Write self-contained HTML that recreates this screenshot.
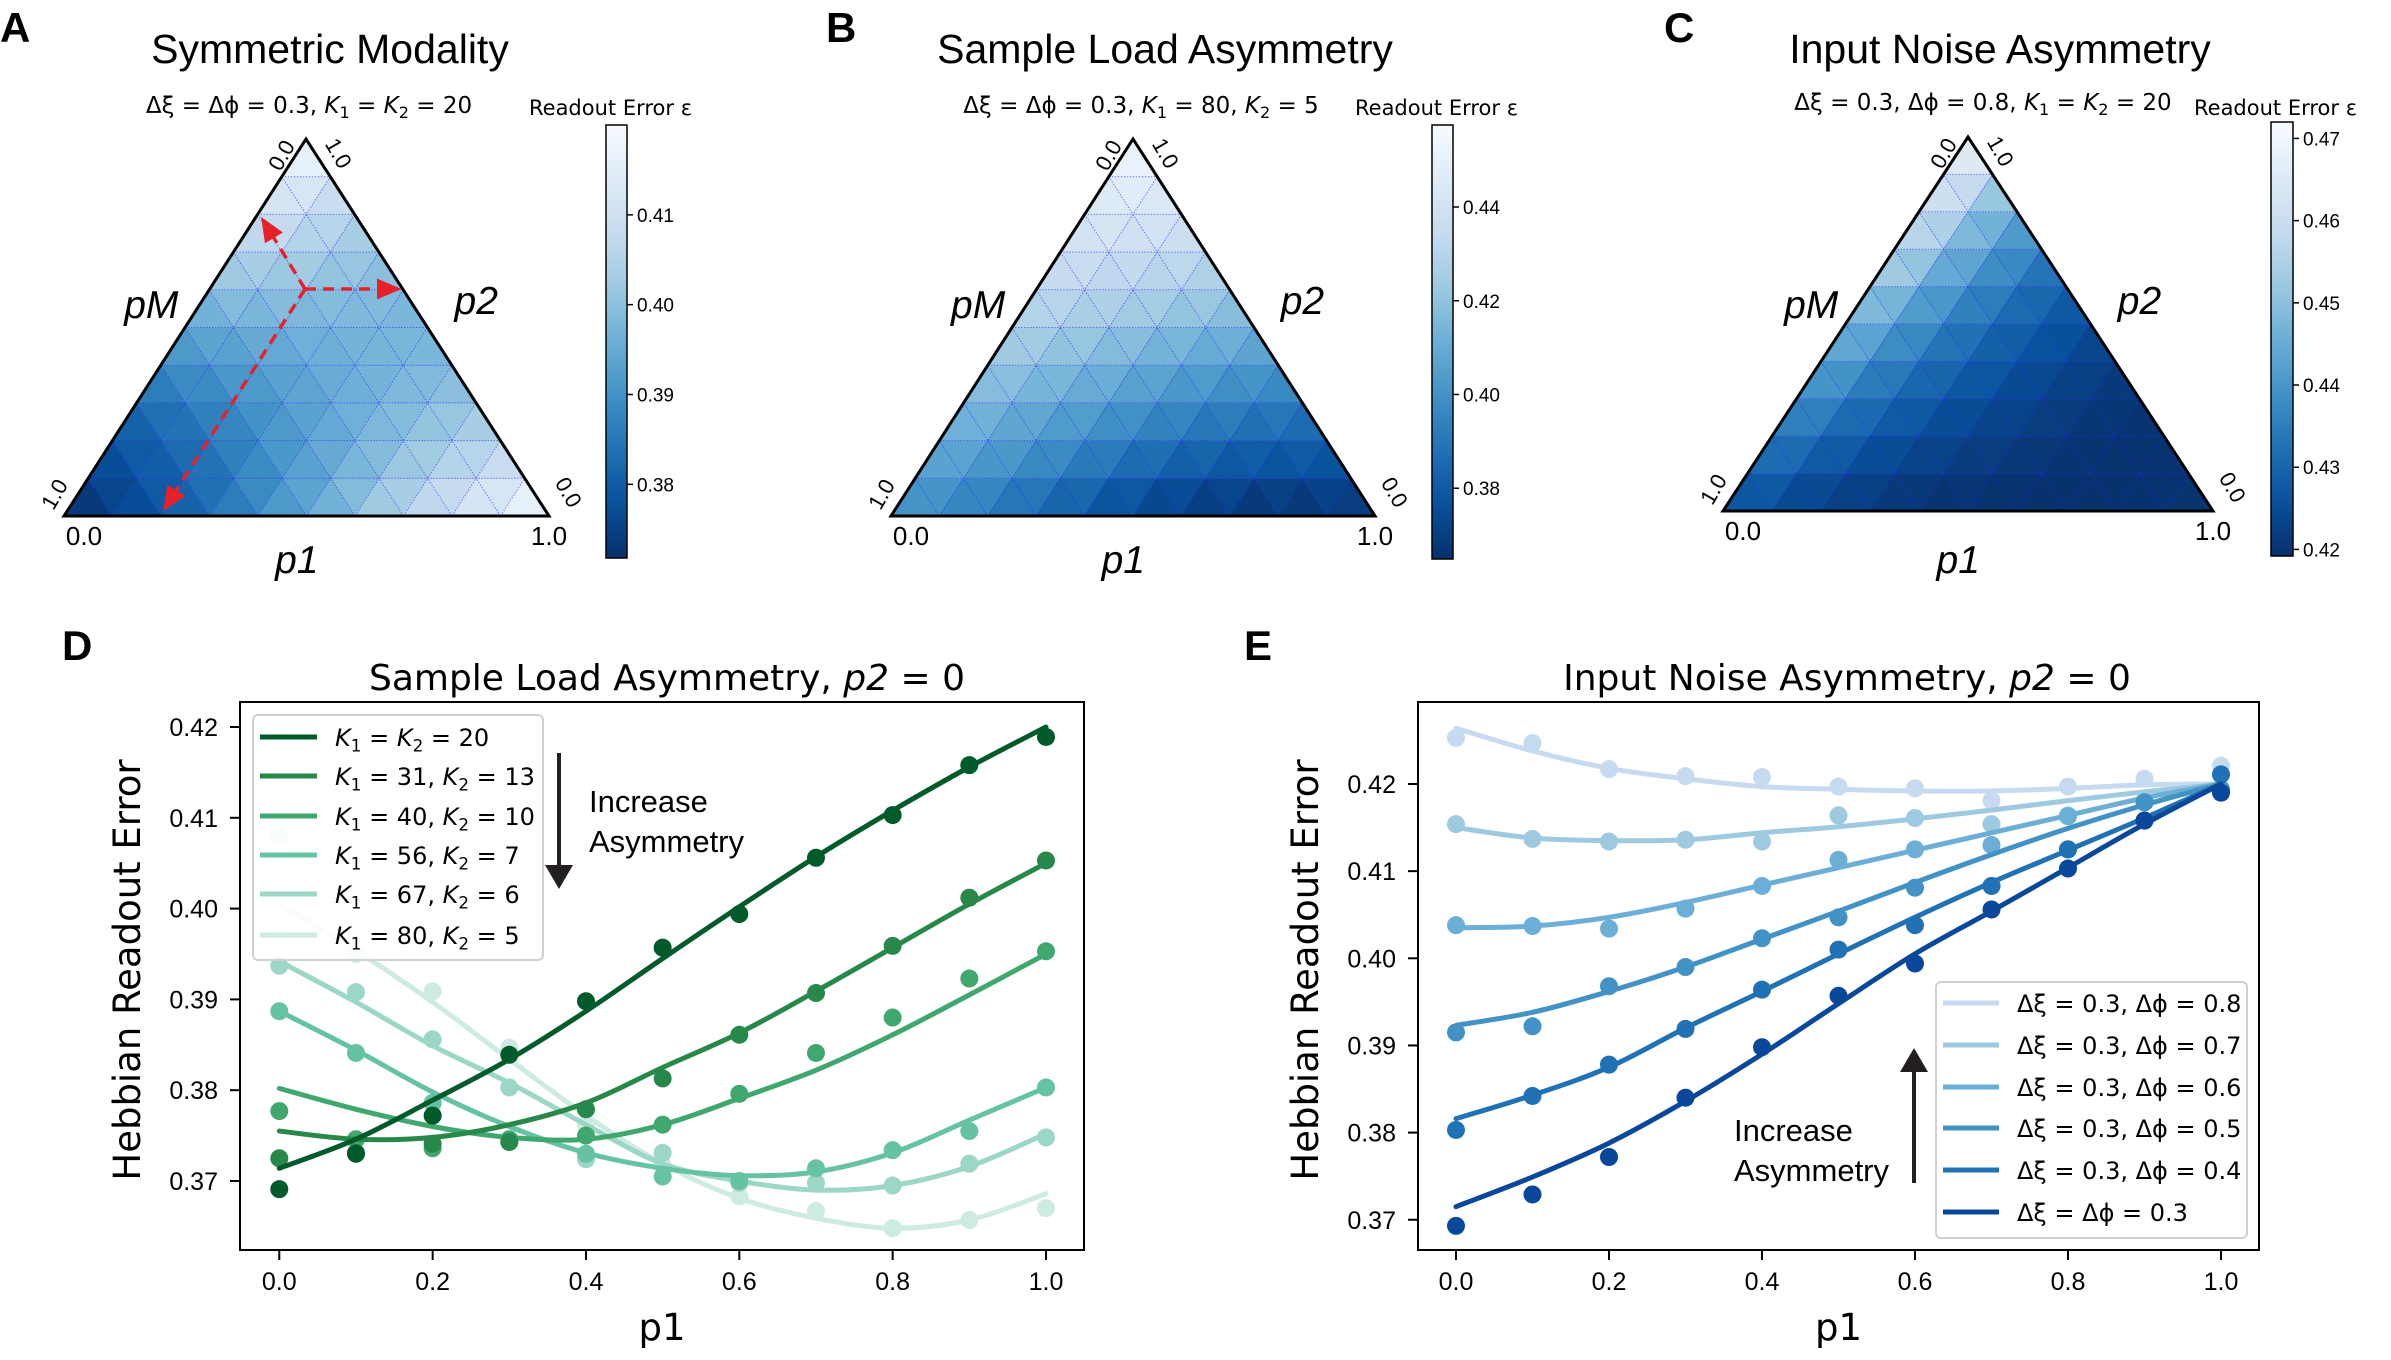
<!DOCTYPE html>
<html><head><meta charset="utf-8"><title>Readout error figure</title>
<style>
html,body{margin:0;padding:0;background:#fff;}
svg{display:block;font-family:"Liberation Sans",sans-serif;}
</style></head>
<body>
<svg id="fig" xmlns="http://www.w3.org/2000/svg" width="2391" height="1360" viewBox="0 0 2391 1360"></svg>
<script>
// ---------- DATA ----------
const triA = [
 [0.3714,0.3746,0.3789,0.3834,0.3887,0.3945,0.4002,0.4057,0.4108,0.4156,0.4200],
 [0.3746,0.3780,0.3816,0.3860,0.3909,0.3957,0.4003,0.4045,0.4084,0.4119],
 [0.3789,0.3816,0.3851,0.3891,0.3930,0.3967,0.4000,0.4030,0.4056],
 [0.3834,0.3860,0.3891,0.3921,0.3949,0.3973,0.3994,0.4011],
 [0.3887,0.3909,0.3930,0.3949,0.3964,0.3976,0.3984],
 [0.3945,0.3957,0.3967,0.3973,0.3976,0.3975],
 [0.4002,0.4003,0.4000,0.3994,0.3984],
 [0.4057,0.4045,0.4030,0.4011],
 [0.4108,0.4084,0.4056],
 [0.4156,0.4119],
 [0.4200]
];
const triB = [
 [0.4005,0.3954,0.3897,0.3834,0.3772,0.3719,0.3681,0.3659,0.3648,0.3657,0.3686],
 [0.4060,0.4014,0.3962,0.3906,0.3850,0.3802,0.3768,0.3748,0.3738,0.3746],
 [0.4114,0.4073,0.4028,0.3977,0.3928,0.3885,0.3855,0.3837,0.3828],
 [0.4169,0.4133,0.4093,0.4049,0.4005,0.3968,0.3942,0.3926],
 [0.4223,0.4192,0.4158,0.4120,0.4083,0.4051,0.4029],
 [0.4278,0.4252,0.4224,0.4192,0.4161,0.4135],
 [0.4332,0.4312,0.4289,0.4264,0.4239],
 [0.4387,0.4371,0.4354,0.4335],
 [0.4441,0.4431,0.4419],
 [0.4496,0.4490],
 [0.4550]
];
const triC = [
 [0.4264,0.4238,0.4218,0.4206,0.4197,0.4194,0.4192,0.4192,0.4195,0.4199,0.4200],
 [0.4309,0.4274,0.4247,0.4228,0.4213,0.4205,0.4199,0.4196,0.4197,0.4199],
 [0.4354,0.4311,0.4276,0.4250,0.4229,0.4217,0.4206,0.4200,0.4199],
 [0.4399,0.4347,0.4304,0.4272,0.4246,0.4228,0.4214,0.4204],
 [0.4444,0.4384,0.4333,0.4294,0.4262,0.4239,0.4221],
 [0.4489,0.4420,0.4362,0.4316,0.4278,0.4250],
 [0.4534,0.4457,0.4391,0.4338,0.4294],
 [0.4579,0.4493,0.4420,0.4360],
 [0.4624,0.4530,0.4448],
 [0.4669,0.4566],
 [0.4714]
];
const cbTicksA = [0.38,0.39,0.40,0.41];
const cbTicksB = [0.38,0.40,0.42,0.44];
const cbTicksC = [0.42,0.43,0.44,0.45,0.46,0.47];

// Panel D
const pD = [0,0.1,0.2,0.3,0.4,0.5,0.6,0.7,0.8,0.9,1.0];
const k1D = ["20","31","40","56","67","80"];
const k2D = ["20","13","10","7","6","5"];
const dotsD1 = [0.3691,0.3730,0.3772,0.3839,0.3898,0.3957,0.3994,0.4056,0.4103,0.4158,0.4189];
const lineD1 = [0.3714,0.3746,0.3789,0.3834,0.3887,0.3945,0.4002,0.4057,0.4108,0.4156,0.4200];
const dotsD2 = [0.3725,0.3731,0.3741,0.3743,0.3779,0.3813,0.3861,0.3907,0.3959,0.4012,0.4053];
const lineD2 = [0.3755,0.3746,0.3748,0.3762,0.3786,0.3825,0.3863,0.3909,0.3957,0.4005,0.4050];
const dotsD3 = [0.3777,0.3746,0.3736,0.3746,0.3750,0.3762,0.3796,0.3841,0.3880,0.3923,0.3953];
const lineD3 = [0.3802,0.3779,0.3760,0.3748,0.3746,0.3762,0.3791,0.3822,0.3861,0.3905,0.3950];
const dotsD4 = [0.3887,0.3841,0.3786,0.3743,0.3730,0.3705,0.3700,0.3714,0.3734,0.3755,0.3803];
const lineD4 = [0.3887,0.3844,0.3798,0.3760,0.3731,0.3714,0.3706,0.3710,0.3731,0.3767,0.3803];
const dotsD5 = [0.3937,0.3908,0.3856,0.3803,0.3724,0.3731,0.3698,0.3698,0.3695,0.3719,0.3748];
const lineD5 = [0.3942,0.3897,0.3849,0.3808,0.3762,0.3719,0.3700,0.3690,0.3695,0.3716,0.3752];
const dotsD6 = [0.4081,0.3950,0.3909,0.3847,0.3762,0.3717,0.3683,0.3667,0.3648,0.3657,0.3670];
const lineD6 = [0.4005,0.3954,0.3897,0.3834,0.3772,0.3719,0.3681,0.3659,0.3648,0.3657,0.3686];
const yTicksD = [0.37,0.38,0.39,0.40,0.41,0.42];
const xTicks = [0.0,0.2,0.4,0.6,0.8,1.0];

// Panel E
const pE = [0,0.1,0.2,0.3,0.4,0.5,0.6,0.7,0.8,0.9,1.0];
const dphiE = ["0.8","0.7","0.6","0.5","0.4","0.3"];
const dotsE1 = [0.4253,0.4247,0.4217,0.4209,0.4208,0.4197,0.4195,0.4181,0.4197,0.4206,0.4221];
const lineE1 = [0.4264,0.4238,0.4218,0.4206,0.4197,0.4194,0.4192,0.4192,0.4195,0.4199,0.4200];
const dotsE2 = [0.4154,0.4137,0.4134,0.4136,0.4134,0.4164,0.4161,0.4154,0.4164,0.4181,0.4194];
const lineE2 = [0.4150,0.4138,0.4135,0.4136,0.4144,0.4151,0.4160,0.4170,0.4181,0.4191,0.4200];
const dotsE3 = [0.4038,0.4037,0.4034,0.4057,0.4083,0.4113,0.4125,0.4130,0.4163,0.4179,0.4211];
const lineE3 = [0.4035,0.4037,0.4047,0.4064,0.4084,0.4104,0.4124,0.4144,0.4164,0.4184,0.4200];
const dotsE4 = [0.3915,0.3922,0.3968,0.3990,0.4023,0.4047,0.4081,0.4083,0.4125,0.4179,0.4194];
const lineE4 = [0.3923,0.3938,0.3962,0.3990,0.4022,0.4054,0.4087,0.4119,0.4149,0.4176,0.4200];
const dotsE5 = [0.3803,0.3842,0.3878,0.3919,0.3964,0.4010,0.4038,0.4083,0.4125,0.4158,0.4211];
const lineE5 = [0.3816,0.3843,0.3875,0.3920,0.3962,0.4005,0.4047,0.4087,0.4124,0.4161,0.4200];
const dotsE6 = [0.3693,0.3729,0.3772,0.3840,0.3898,0.3957,0.3994,0.4056,0.4103,0.4158,0.4190];
const lineE6 = [0.3715,0.3749,0.3788,0.3836,0.3890,0.3948,0.4005,0.4054,0.4104,0.4154,0.4200];
const yTicksE = [0.37,0.38,0.39,0.40,0.41,0.42];

// ---------- HELPERS ----------
const NS = "http://www.w3.org/2000/svg";
const svg = document.getElementById("fig");
const DJ = '"DejaVu Sans","Liberation Sans",sans-serif';
function mk(tag, attrs, parent){
  const e = document.createElementNS(NS, tag);
  for (const k in attrs) e.setAttribute(k, attrs[k]);
  (parent||svg).appendChild(e);
  return e;
}
function txt(x,y,s,size,opts,parent){
  opts = opts||{};
  const t = mk("text",{x:x,y:y,"font-size":size,fill:"#000","text-anchor":opts.anchor||"start"},parent);
  if (opts.italic) t.setAttribute("font-style","italic");
  if (opts.bold) t.setAttribute("font-weight","bold");
  if (opts.font) t.setAttribute("font-family",opts.font);
  if (opts.rot!==undefined) t.setAttribute("transform","rotate("+opts.rot+" "+x+" "+y+")");
  t.textContent = s;
  return t;
}
function rich(x,y,parts,size,anchor,parent,font){
  const t = mk("text",{x:x,y:y,"font-size":size,fill:"#000","text-anchor":anchor||"start"},parent);
  if (font) t.setAttribute("font-family",font);
  parts.forEach(p=>{
    const ts = mk("tspan",{},t);
    if (p[1]) ts.setAttribute("font-style","italic");
    if (p[2]) { ts.setAttribute("font-size", size*0.7); ts.setAttribute("dy", size*0.22); }
    if (p[3]) { ts.setAttribute("dy", -size*0.22); }
    ts.textContent = p[0];
  });
  return t;
}
const BLUES = ["#f7fbff","#deebf7","#c6dbef","#9ecae1","#6baed6","#4292c6","#2171b5","#08519c","#08306b"];
function hex2rgb(h){return [parseInt(h.substr(1,2),16),parseInt(h.substr(3,2),16),parseInt(h.substr(5,2),16)];}
function blues(t){
  t = Math.max(0,Math.min(1,t));
  const f = t*(BLUES.length-1), i = Math.min(BLUES.length-2, Math.floor(f)), r = f-i;
  const a = hex2rgb(BLUES[i]), b = hex2rgb(BLUES[i+1]);
  return "rgb("+a.map((v,j)=>Math.round(v+(b[j]-v)*r)).join(",")+")";
}

// ---------- TERNARY PANELS ----------
function ternary(cfg){
  const g = mk("g",{});
  
  
  const BL=cfg.BL, BR=cfg.BR, T=cfg.T, grid=cfg.grid, vmin=cfg.vmin, vmax=cfg.vmax;
  const N=10;
  function pos(i,k){ const a=i/N, b=k/N; return [BL[0]+a*(BR[0]-BL[0])+b*(T[0]-BL[0]), BL[1]+a*(BR[1]-BL[1])+b*(T[1]-BL[1])]; }
  function col(v){ return blues((vmax-v)/(vmax-vmin)); }
  for (let k=0;k<N;k++){
    for (let i=0;i<N-k;i++){
      const v=(grid[k][i]+grid[k][i+1]+grid[k+1][i])/3;
      const p=[pos(i,k),pos(i+1,k),pos(i,k+1)];
      const c=col(v);
      const poly=mk("polygon",{points:p.map(q=>q.join(",")).join(" "),fill:c,stroke:c,"stroke-width":0.8},g);
      
      
      if (i<N-k-1){
        const v2=(grid[k][i+1]+grid[k+1][i+1]+grid[k+1][i])/3;
        const p2=[pos(i+1,k),pos(i+1,k+1),pos(i,k+1)];
        const c2=col(v2);
        const poly2=mk("polygon",{points:p2.map(q=>q.join(",")).join(" "),fill:c2,stroke:c2,"stroke-width":0.8},g);
        
        
      }
    }
  }
  for (let k=1;k<N;k++){
    const a=pos(0,k), b=pos(N-k,k);
    mk("line",{x1:a[0],y1:a[1],x2:b[0],y2:b[1],stroke:"#2a2aff","stroke-width":1,"stroke-dasharray":"1.5 1.5",opacity:0.6},g);
    const c=pos(k,0), d=pos(k,N-k);
    mk("line",{x1:c[0],y1:c[1],x2:d[0],y2:d[1],stroke:"#2a2aff","stroke-width":1,"stroke-dasharray":"1.5 1.5",opacity:0.6},g);
    const e=pos(k,0), f=pos(0,k);
    mk("line",{x1:e[0],y1:e[1],x2:f[0],y2:f[1],stroke:"#2a2aff","stroke-width":1,"stroke-dasharray":"1.5 1.5",opacity:0.6},g);
  }
  const outline = mk("polygon",{points:[BL,BR,T].map(q=>q.join(",")).join(" "),fill:"none",stroke:"#000","stroke-width":3},g);
  
  
  const ox=BL[0], W=BR[0]-BL[0];
  txt(BL[0]+20, BL[1]+29, "0.0", 26, {anchor:"middle"}, g);
  txt(BR[0], BL[1]+29, "1.0", 26, {anchor:"middle"}, g);
  txt(T[0]-18, T[1]+20, "0.0", 22, {anchor:"middle", rot:-60}, g);
  txt(T[0]+26, T[1]+18, "1.0", 22, {anchor:"middle", rot:60}, g);
  txt(BL[0]-3, BL[1]-18, "1.0", 22, {anchor:"middle", rot:-60}, g);
  txt(BR[0]+13, BL[1]-20, "0.0", 22, {anchor:"middle", rot:60}, g);
  txt(ox+W*0.18, 318, "pM", 39, {anchor:"middle", italic:true}, g);
  txt(ox+W*0.85, 314, "p2", 39, {anchor:"middle", italic:true}, g);
  txt(ox+W*0.48, 573, "p1", 39, {anchor:"middle", italic:true}, g);
  const cb=cfg.cb;
  const gid="grad"+cfg.name;
  const defs=mk("defs",{},g);
  const lg=mk("linearGradient",{id:gid,x1:0,y1:0,x2:0,y2:1},defs);
  for (let s=0;s<=20;s++){ mk("stop",{offset:(s/20),"stop-color":blues(s/20)},lg); }
  const bar=mk("rect",{x:cb.x,y:cb.y0,width:cb.w,height:cb.y1-cb.y0,fill:"url(#"+gid+")",stroke:"#000","stroke-width":1.5},g);
  
  
  cfg.ticks.forEach(v=>{
    const y=cb.y0+(vmax-v)/(vmax-vmin)*(cb.y1-cb.y0);
    mk("line",{x1:cb.x+cb.w,y1:y,x2:cb.x+cb.w+6,y2:y,stroke:"#000","stroke-width":1.5},g);
    txt(cb.x+cb.w+10, y+7, v.toFixed(2), 19, {}, g);
  });
  txt(cb.x-77, 115, "Readout Error ε", 21, {font:DJ}, g);
  return g;
}

ternary({name:"ternary-symmetric-modality",BL:[64,516],BR:[549,516],T:[306,139],grid:triA,vmin:0.3718,vmax:0.4200,
  cb:{x:606,w:21,y0:125,y1:558},ticks:cbTicksA});
ternary({name:"ternary-sample-load",BL:[891,516],BR:[1375,516],T:[1133,139],grid:triB,vmin:0.3649,vmax:0.4575,
  cb:{x:1432,w:21,y0:125,y1:559},ticks:cbTicksB});
ternary({name:"ternary-input-noise",BL:[1723,511],BR:[2213,511],T:[1968,137],grid:triC,vmin:0.4192,vmax:0.4720,
  cb:{x:2271,w:22,y0:122,y1:556},ticks:cbTicksC});

(function(){
  const defs=mk("defs",{});
  const m=mk("marker",{id:"redhead",markerWidth:8,markerHeight:8,refX:6,refY:4,orient:"auto",markerUnits:"strokeWidth"},defs);
  mk("path",{d:"M0,1 L7,4 L0,7 Z",fill:"#e8202a"},m);
  const c=[305,289];
  [[263,220],[398,289],[165,508]].forEach(e=>{
    const l=mk("line",{x1:c[0],y1:c[1],x2:e[0],y2:e[1],stroke:"#e8202a","stroke-width":3.5,"stroke-dasharray":"11 7","marker-end":"url(#redhead)"});
    
    
  });
})();

const tA = txt(330,63,"Symmetric Modality",41,{anchor:"middle"});  
const tB = txt(1165,63,"Sample Load Asymmetry",41,{anchor:"middle"});  
const tC = txt(2000,63,"Input Noise Asymmetry",41,{anchor:"middle"});  
rich(309,113,[["Δξ = Δϕ = 0.3, "],["K",1],["1",0,1],[" = ",0,0,1],["K",1],["2",0,1],[" = 20",0,0,1]],23,"middle",null,DJ);
rich(1141,113,[["Δξ = Δϕ = 0.3, "],["K",1],["1",0,1],[" = 80, ",0,0,1],["K",1],["2",0,1],[" = 5",0,0,1]],23,"middle",null,DJ);
rich(1983,110,[["Δξ = 0.3, Δϕ = 0.8, "],["K",1],["1",0,1],[" = ",0,0,1],["K",1],["2",0,1],[" = 20",0,0,1]],23,"middle",null,DJ);
["A","B","C","D","E"].forEach((L,i)=>{
  const xy=[[0,42],[826,42],[1664,42],[62,660],[1244,660]][i];
  const t=txt(xy[0],xy[1],L,42,{bold:true});
  
  
});

// ---------- LINE PANELS ----------
function smoothPath(pts){
  let d="M"+pts[0][0]+","+pts[0][1];
  for (let i=0;i<pts.length-1;i++){
    const p0=pts[Math.max(0,i-1)], p1=pts[i], p2=pts[i+1], p3=pts[Math.min(pts.length-1,i+2)];
    const c1=[p1[0]+(p2[0]-p0[0])/6, p1[1]+(p2[1]-p0[1])/6];
    const c2=[p2[0]-(p3[0]-p1[0])/6, p2[1]-(p3[1]-p1[1])/6];
    d+=" C"+c1[0].toFixed(1)+","+c1[1].toFixed(1)+" "+c2[0].toFixed(1)+","+c2[1].toFixed(1)+" "+p2[0].toFixed(1)+","+p2[1].toFixed(1);
  }
  return d;
}
function linePanel(cfg){
  const g=mk("g",{});
  
  
  const X=p=>cfg.x0+p*(cfg.x1-cfg.x0);
  const Y=v=>cfg.y42+(0.42-v)*cfg.ys;
  const order = cfg.series.map((s,i)=>i);
  if (cfg.reverseDraw) order.reverse();
  order.forEach(si=>{
    const s=cfg.series[si];
    const pts=cfg.p.map((p,i)=>[X(p),Y(s.line[i])]);
    const path=mk("path",{d:smoothPath(pts),fill:"none",stroke:s.color,"stroke-width":5,"stroke-linecap":"round"},g);
    
    
    cfg.p.forEach((p,i)=>{
      const c=mk("circle",{cx:X(p),cy:Y(s.dots[i]),r:9,fill:s.color},g);
      
      
    });
  });
  const fr=mk("rect",{x:cfg.L,y:cfg.T,width:cfg.R-cfg.L,height:cfg.B-cfg.T,fill:"none",stroke:"#000","stroke-width":2},g);
  
  
  xTicks.forEach(t=>{
    mk("line",{x1:X(t),y1:cfg.B,x2:X(t),y2:cfg.B+10,stroke:"#000","stroke-width":2},g);
    const l=txt(X(t),cfg.B+40,t.toFixed(1),25,{anchor:"middle"},g);
    
    
  });
  cfg.yTicks.forEach(t=>{
    mk("line",{x1:cfg.L-10,y1:Y(t),x2:cfg.L,y2:Y(t),stroke:"#000","stroke-width":2},g);
    const l=txt(cfg.L-22,Y(t)+9,t.toFixed(2),25,{anchor:"end"},g);
    
    
  });
  const xl=txt((cfg.L+cfg.R)/2,1340,"p1",37,{anchor:"middle",font:DJ},g);
   
  const yl=txt(cfg.L-100,(cfg.T+cfg.B)/2-6,"Hebbian Readout Error",37,{anchor:"middle",rot:-90,font:DJ},g);
   
  const lg=cfg.legend;
  const box=mk("rect",{x:lg.x,y:lg.y,width:lg.w,height:lg.h,rx:5,fill:"#fff","fill-opacity":0.85,stroke:"#d0d0d0","stroke-width":2},g);
   
  cfg.series.forEach((s,i)=>{
    const y=lg.rows[i];
    mk("line",{x1:lg.lx0,y1:y,x2:lg.lx1,y2:y,stroke:s.color,"stroke-width":5},g);
    const t=rich(lg.tx,y+9,s.label,24,"start",g,DJ);
     
  });
  return g;
}
function kLabel(i){
  if (k1D[i]===k2D[i]) return [["K",1],["1",0,1],[" = ",0,0,1],["K",1],["2",0,1],[" = "+k1D[i],0,0,1]];
  return [["K",1],["1",0,1],[" = "+k1D[i]+", ",0,0,1],["K",1],["2",0,1],[" = "+k2D[i],0,0,1]];
}
const greens=["#005a2a","#27884a","#40a86f","#66c2a4","#9bd6c7","#cdebe3"];
const dD=[dotsD1,dotsD2,dotsD3,dotsD4,dotsD5,dotsD6], lD=[lineD1,lineD2,lineD3,lineD4,lineD5,lineD6];
const seriesD = k1D.map((k,i)=>({label:kLabel(i),color:greens[i],dots:dD[i],line:lD[i]}));
linePanel({name:"panel-d-sample-load",p:pD,x0:279.3,x1:1046,y42:727,ys:9080,L:240,R:1084,T:702,B:1250,yTicks:yTicksD,
  series:seriesD, reverseDraw:true,
  legend:{x:253,y:715,w:290,h:245,rows:[737,776,816,855,894,935],lx0:260,lx1:317,tx:335}});

const bluesL=["#c6dbef","#9ecae1","#6baed6","#4292c6","#2171b5","#08479a"];
const dE=[dotsE1,dotsE2,dotsE3,dotsE4,dotsE5,dotsE6], lE=[lineE1,lineE2,lineE3,lineE4,lineE5,lineE6];
const seriesE = dphiE.map((d,i)=>({label: d==="0.3" ? [["Δξ = Δϕ = 0.3"]] : [["Δξ = 0.3, Δϕ = "+d]],color:bluesL[i],dots:dE[i],line:lE[i]}));
linePanel({name:"panel-e-input-noise",p:pE,x0:1456,x1:2221,y42:784,ys:8715,L:1418,R:2259,T:702,B:1250,yTicks:yTicksE,
  series:seriesE, reverseDraw:false,
  legend:{x:1936,y:982,w:311,h:256,rows:[1003,1045,1087,1128,1170,1212],lx0:1943,lx1:1999,tx:2017}});

const tD = rich(667,690,[["Sample Load Asymmetry, "],["p2",1],[" = 0"]],36,"middle",null,DJ);


const tE = rich(1847,690,[["Input Noise Asymmetry, "],["p2",1],[" = 0"]],36,"middle",null,DJ);



(function(){
  const defs=mk("defs",{});
  const m=mk("marker",{id:"blackhead",markerWidth:6,markerHeight:8,refX:5,refY:4,orient:"auto",markerUnits:"strokeWidth"},defs);
  mk("path",{d:"M0,0.5 L6,4 L0,7.5 Z",fill:"#231f20"},m);
  const a1=mk("line",{x1:559,y1:753,x2:559,y2:885,stroke:"#231f20","stroke-width":4,"marker-end":"url(#blackhead)"});
   
  const a2=mk("line",{x1:1914,y1:1183,x2:1914,y2:1052,stroke:"#231f20","stroke-width":4,"marker-end":"url(#blackhead)"});
   
  txt(589,812,"Increase",31); txt(589,852,"Asymmetry",31);
  txt(1734,1141,"Increase",31); txt(1734,1181,"Asymmetry",31);
})();
</script>
</body></html>
